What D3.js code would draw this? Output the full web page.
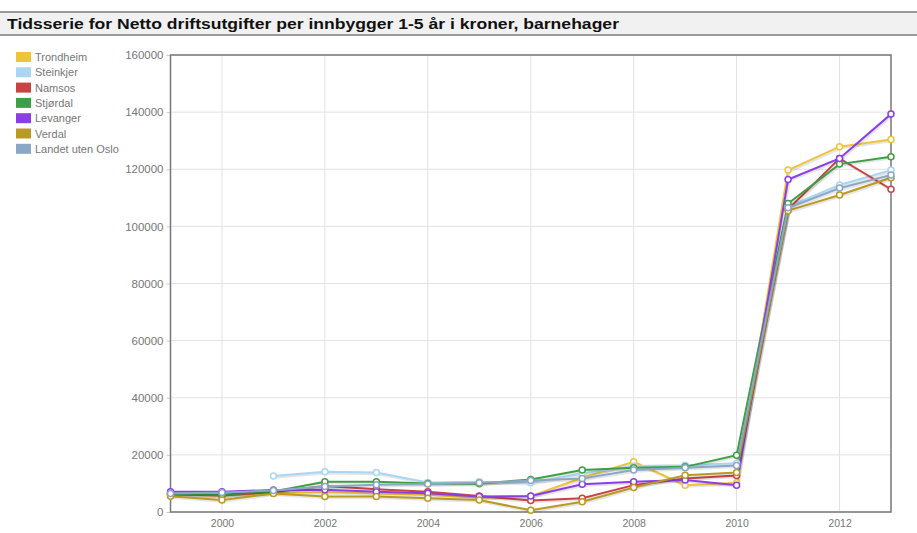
<!DOCTYPE html>
<html><head><meta charset="utf-8">
<script src="https://cdn.jsdelivr.net/npm/d3@7"></script>
<style>body{margin:0;background:#fff;font-family:"Liberation Sans",Arial,sans-serif}</style>
</head><body><svg id="c" width="917" height="533"></svg>
<script>
const title = "Tidsserie for Netto driftsutgifter per innbygger 1-5 år i kroner, barnehager";
const years = [1999,2000,2001,2002,2003,2004,2005,2006,2007,2008,2009,2010,2011,2012,2013];
const seriesNames = ["Trondheim","Steinkjer","Namsos","Stjørdal","Levanger","Verdal","Landet uten Oslo"];
const seriesColors = ["#f0c43a","#a9d6f2","#c94343","#3f9f45","#8b3de6","#b99a22","#8aa7c6"];
const trondheim = [6000,5800,6600,7000,6500,6000,5000,5500,12000,17600,9400,10200,119700,127900,130400];
const steinkjer = [null,null,12600,14100,13800,10300,10600,10200,13500,16100,16400,17100,107000,114500,119700];
const namsos    = [6200,5800,7000,9100,8000,7100,5600,4000,4800,9400,11700,12800,106000,123800,113000];
const stjordal  = [6300,6000,7200,10600,10600,10000,9900,11400,14700,15500,15800,19900,108000,121800,124400];
const levanger  = [7100,7100,7700,7800,7100,6600,5400,5600,9700,10600,11200,9400,116400,123800,139300];
const verdal    = [5500,4200,6500,5400,5400,4800,4200,600,3600,8600,12900,13800,105500,111000,117000];
const landet    = [6500,6800,7500,8900,9500,9800,10200,11000,11700,14700,15500,16300,106500,113400,118000];
const seriesValues = [trondheim,steinkjer,namsos,stjordal,levanger,verdal,landet];
const yTicks = [0,20000,40000,60000,80000,100000,120000,140000,160000];
const xTicks = [2000,2002,2004,2006,2008,2010,2012];

const svg = d3.select("#c");
// title bar
svg.append("rect").attr("x",0).attr("y",12).attr("width",917).attr("height",23).attr("fill","#f1f1f1");
svg.append("line").attr("x1",0).attr("x2",917).attr("y1",12).attr("y2",12).attr("stroke","#9a9a9a").attr("stroke-width",2);
svg.append("line").attr("x1",0).attr("x2",917).attr("y1",35).attr("y2",35).attr("stroke","#9a9a9a").attr("stroke-width",2);
svg.append("text").attr("x",7).attr("y",29).attr("font-size",15.5).attr("font-weight","bold")
  .attr("fill","#111").attr("textLength",612).attr("lengthAdjust","spacingAndGlyphs").text(title);

const L=170.5, R=891, T=55, B=512;
const x = d3.scaleLinear().domain([1999,2013]).range([L,R]);
const y = d3.scaleLinear().domain([0,160000]).range([B,T]);

const g = svg.append("g");
// grid
g.selectAll(".hg").data(yTicks).join("line").attr("x1",L).attr("x2",R)
  .attr("y1",d=>y(d)).attr("y2",d=>y(d)).attr("stroke","#e2e2e2").attr("stroke-width",1);
g.selectAll(".vg").data(xTicks).join("line").attr("y1",T).attr("y2",B)
  .attr("x1",d=>x(d)).attr("x2",d=>x(d)).attr("stroke","#e2e2e2").attr("stroke-width",1);

// axes
const ya = svg.append("g").attr("transform",`translate(${L},0)`)
  .call(d3.axisLeft(y).tickValues(yTicks).tickFormat(d3.format("d")).tickSize(4).tickPadding(3));
ya.select(".domain").remove();
ya.selectAll("line").attr("stroke","#ccc");
ya.selectAll("text").attr("font-size",11.5).attr("fill","#777").attr("font-family","Liberation Sans, Arial");
const xa = svg.append("g").attr("transform",`translate(0,${B})`)
  .call(d3.axisBottom(x).tickValues(xTicks).tickFormat(d3.format("d")).tickSize(0).tickPadding(8));
xa.select(".domain").remove();
xa.selectAll("text").attr("font-size",10.5).attr("fill","#777").attr("font-family","Liberation Sans, Arial");

// border
svg.append("rect").attr("x",L).attr("y",T).attr("width",R-L).attr("height",B-T)
  .attr("fill","none").attr("stroke","#777").attr("stroke-width",1.5);

// lines
const line = d3.line().defined(d=>d.v!=null).x(d=>x(d.yr)).y(d=>y(d.v));
seriesValues.forEach((vals,i)=>{
  const data = years.map((yr,j)=>({yr,v:vals[j]}));
  svg.append("path").datum(data).attr("d",line).attr("fill","none")
    .attr("stroke","rgba(0,0,0,0.1)").attr("stroke-width",3).attr("transform","translate(1.2,1.2)");
  svg.append("path").datum(data).attr("d",line).attr("fill","none")
    .attr("stroke",seriesColors[i]).attr("stroke-width",2);
});
seriesValues.forEach((vals,i)=>{
  const data = years.map((yr,j)=>({yr,v:vals[j]})).filter(d=>d.v!=null);
  svg.append("g").selectAll("circle").data(data).join("circle")
    .attr("cx",d=>x(d.yr)).attr("cy",d=>y(d.v)).attr("r",3)
    .attr("fill","#fff").attr("stroke",seriesColors[i]).attr("stroke-width",1.5);
});

// legend
const lg = svg.append("g");
seriesNames.forEach((n,i)=>{
  const yy = 57 + i*15.3;
  lg.append("rect").attr("x",16).attr("y",yy-5).attr("width",15).attr("height",10).attr("fill",seriesColors[i]);
  lg.append("text").attr("x",35).attr("y",yy+4).attr("font-size",11).attr("fill","#777").text(n);
});
</script></body></html>
